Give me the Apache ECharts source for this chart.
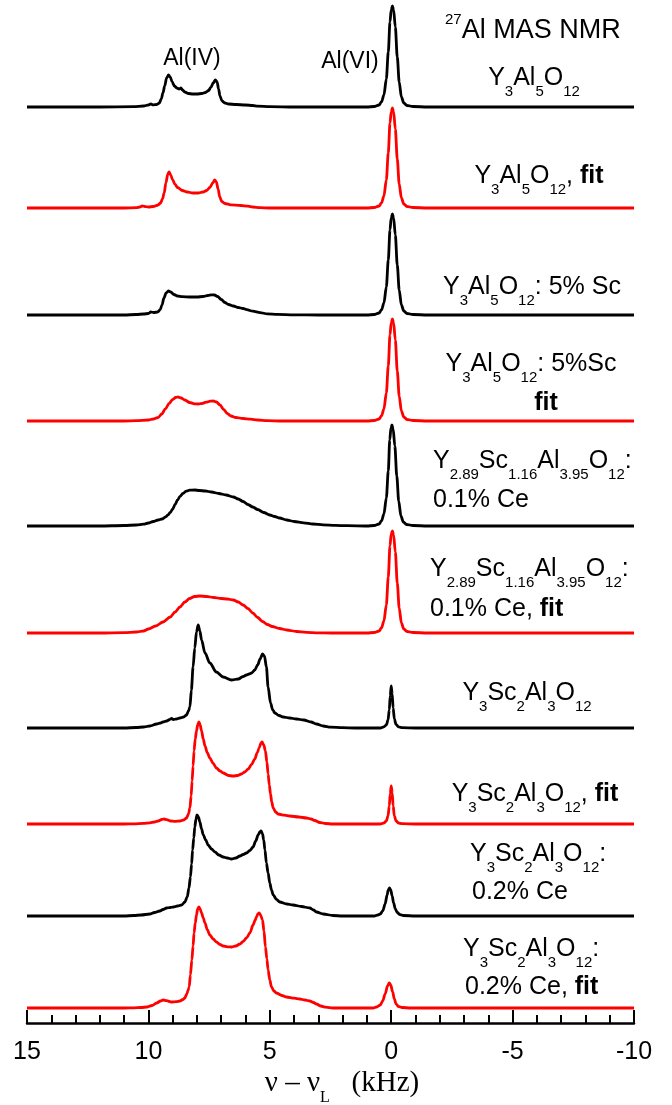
<!DOCTYPE html>
<html><head><meta charset="utf-8">
<script src="https://cdn.jsdelivr.net/npm/echarts@6/dist/echarts.min.js"></script>
<style>html,body{margin:0;padding:0;background:#fff}#c{width:672px;height:1105px}</style>
</head><body><div id="c"></div>
<script>
// x: nu - nuL (kHz); y: intensity above each trace's own baseline (arbitrary units)
const xTicks = [15, 10, 5, 0, -5, -10];
const traceOffsets = [916, 815, 708, 602, 497, 390, 295, 199, 107, 15];
const traceKinds = ['exp','fit','exp','fit','exp','fit','exp','fit','exp','fit'];

const specYAG = [[15,0],[12,0],[10.6,0.3],[10.2,1],[10.0,2],[9.9,3],[9.8,2.2],[9.65,2.5],[9.55,4],[9.47,8],[9.4,14],[9.33,21],[9.25,29],[9.17,32],[9.1,30],[9.02,25],[8.93,21],[8.83,19],[8.73,18],[8.66,19],[8.6,17],[8.5,15],[8.35,13.5],[8.17,13],[8.0,13],[7.8,13.5],[7.65,14.5],[7.52,16.5],[7.43,19.5],[7.33,24],[7.24,27],[7.17,25],[7.11,18],[7.05,11],[6.97,6],[6.85,4],[6.7,3],[6.4,2.5],[6.0,2],[5.7,1.5],[5.5,0.8],[5.0,0.4],[4.0,0],[1.0,0],[0.7,0.5],[0.5,2],[0.4,5],[0.3,12],[0.2,28],[0.12,55],[0.05,85],[0.0,97],[-0.05,101],[-0.1,97],[-0.17,80],[-0.25,50],[-0.33,25],[-0.42,10],[-0.52,4],[-0.65,1.5],[-0.9,0.5],[-1.5,0],[-10,0]];
const specYAGfit = [[15,0],[11,0],[10.5,0.3],[10.35,1],[10.25,2],[10.15,1.5],[10.0,1],[9.8,1.5],[9.6,3],[9.5,5],[9.42,9],[9.35,15],[9.28,25],[9.2,34],[9.15,36],[9.08,33],[9.0,28],[8.9,23.5],[8.8,20.5],[8.6,17.5],[8.4,16],[8.17,15],[7.95,15],[7.75,16],[7.6,17.5],[7.47,20.5],[7.35,25],[7.27,28],[7.2,26],[7.13,19],[7.06,11],[6.98,6.5],[6.85,4.5],[6.6,3.2],[6.2,2.5],[5.9,1.8],[5.7,1],[5.4,0.3],[5.0,0],[1.0,0],[0.7,0.5],[0.5,2],[0.4,5],[0.3,12],[0.2,28],[0.12,55],[0.05,85],[0.0,96],[-0.05,100],[-0.1,96],[-0.17,79],[-0.25,49],[-0.33,24],[-0.42,10],[-0.52,4],[-0.65,1.5],[-0.9,0.5],[-1.5,0],[-10,0]];
const specSc5 = [[15,0],[11,0],[10.5,0.5],[10.2,1],[10.0,1.5],[9.9,3],[9.78,2.5],[9.62,3],[9.52,5],[9.44,10],[9.36,17],[9.27,22],[9.18,24],[9.08,23],[8.95,20.5],[8.8,19],[8.6,18.3],[8.3,18],[8.0,18],[7.75,18.5],[7.55,19.5],[7.4,20.2],[7.28,20],[7.15,18.5],[7.0,15.5],[6.85,12.5],[6.7,10.5],[6.5,9],[6.3,7.5],[6.1,6.5],[5.95,5.3],[5.7,3.8],[5.4,2.3],[5.1,1.2],[4.7,0.6],[4.0,0.2],[3,0],[1.0,0],[0.7,0.5],[0.5,2],[0.4,5],[0.3,12],[0.2,28],[0.12,55],[0.05,85],[0.0,97],[-0.05,101],[-0.1,97],[-0.17,80],[-0.25,50],[-0.33,25],[-0.42,10],[-0.52,4],[-0.65,1.5],[-0.9,0.5],[-1.5,0],[-10,0]];
const specSc5fit = [[15,0],[11,0],[10.5,0.3],[10.0,1],[9.8,2],[9.6,3.5],[9.45,7],[9.3,12],[9.15,17.5],[9.0,21.5],[8.88,23.5],[8.78,24],[8.65,23],[8.5,21],[8.3,18.5],[8.1,17.2],[7.95,17],[7.8,17.5],[7.62,18.8],[7.45,19.8],[7.33,20],[7.2,19],[7.05,16],[6.9,11.5],[6.75,7.5],[6.6,5],[6.4,3.5],[6.1,2.5],[5.8,1.8],[5.5,1],[5.1,0.4],[4.5,0],[1.0,0],[0.7,0.5],[0.5,2],[0.4,5],[0.3,12],[0.2,28],[0.12,55],[0.05,86],[0.0,98],[-0.05,102],[-0.1,98],[-0.17,81],[-0.25,50],[-0.33,25],[-0.42,10],[-0.52,4],[-0.65,1.5],[-0.9,0.5],[-1.5,0],[-10,0]];
const specCe01 = [[15,0],[12,0],[11,0.5],[10.5,1],[10.2,1.8],[10.0,3],[9.8,4.5],[9.6,6],[9.44,7],[9.3,8.8],[9.2,10.8],[9.1,13.5],[9.0,17],[8.9,21.5],[8.8,26],[8.7,29.5],[8.58,32.5],[8.45,34.8],[8.3,35.8],[8.1,36],[7.9,35.5],[7.65,35],[7.4,34],[7.1,32.5],[6.8,31],[6.5,29],[6.3,27],[6.1,24.5],[5.9,21.5],[5.7,19],[5.5,16.5],[5.25,13.5],[5.0,11],[4.8,9.5],[4.6,8],[4.3,6],[4.0,4.5],[3.6,3.2],[3.23,2],[2.8,1.2],[2.3,0.6],[1.8,0.3],[1.0,0],[0.7,0.5],[0.5,2],[0.4,5],[0.3,12],[0.2,28],[0.12,55],[0.06,86],[0.01,98],[-0.03,101],[-0.08,97],[-0.15,80],[-0.23,50],[-0.31,25],[-0.4,10],[-0.5,4],[-0.63,1.5],[-0.9,0.5],[-1.5,0],[-10,0]];
const specCe01fit = [[15,0],[12,0],[11,0.4],[10.5,1],[10.2,2],[10.0,4],[9.7,7],[9.4,11],[9.1,16],[8.9,21],[8.7,26],[8.5,31],[8.3,34.5],[8.1,36.5],[7.88,37],[7.6,36.5],[7.3,35.5],[7.0,34.5],[6.75,34],[6.5,33],[6.3,31],[6.1,28],[5.9,24.5],[5.7,20],[5.5,15.5],[5.3,11.5],[5.1,8.5],[4.9,6.5],[4.6,4.5],[4.3,3],[3.9,1.5],[3.5,0.7],[3.0,0.2],[2.5,0],[1.0,0],[0.7,0.5],[0.5,2],[0.4,5],[0.3,12],[0.2,28],[0.12,56],[0.05,87],[0.0,99],[-0.05,102],[-0.1,98],[-0.17,81],[-0.25,50],[-0.33,25],[-0.42,10],[-0.52,4],[-0.65,1.5],[-0.9,0.5],[-1.5,0],[-10,0]];
const specYSAG = [[15,0],[11,0],[10.5,0.5],[10.2,1],[9.94,2],[9.66,4],[9.5,5],[9.4,6],[9.25,7],[9.12,8.5],[9.05,9.5],[8.97,8.5],[8.85,9],[8.7,10],[8.55,11],[8.43,13],[8.35,17],[8.29,21],[8.23,38],[8.16,61],[8.09,80],[8.02,96],[7.95,103],[7.88,97],[7.81,88],[7.67,75],[7.47,65],[7.2,56],[6.92,51],[6.58,48],[6.3,49],[6.1,51.5],[5.96,53],[5.85,54],[5.75,55],[5.62,58],[5.5,63],[5.4,69],[5.3,74],[5.22,72],[5.14,61],[5.07,41],[4.97,25],[4.88,18],[4.79,15],[4.62,12.5],[4.45,11],[4.18,10],[3.9,9],[3.6,8],[3.3,6],[3.08,4],[2.8,2],[2.5,0.8],[2.0,0.3],[1.5,0],[0.45,0],[0.3,1.2],[0.2,3],[0.13,8],[0.08,18],[0.04,32],[0.0,42],[-0.04,34],[-0.08,20],[-0.13,9],[-0.2,3.5],[-0.3,1.2],[-0.45,0.3],[-1,0],[-10,0]];
const specYSAGfit = [[15,0],[11,0],[10.6,0.2],[10.2,0.6],[9.94,1.2],[9.75,2],[9.6,3],[9.45,4.5],[9.36,5],[9.25,4.3],[9.1,3],[8.9,2.6],[8.7,3],[8.55,4],[8.43,6],[8.35,10],[8.29,16],[8.24,28],[8.2,43],[8.16,58],[8.12,73],[8.07,85],[8.02,93],[7.97,99],[7.92,102],[7.87,99],[7.81,93],[7.74,85],[7.67,78],[7.57,71],[7.47,66],[7.33,60.5],[7.2,56],[7.05,53],[6.92,51],[6.7,48.5],[6.51,48],[6.33,48.5],[6.17,50],[6.03,52],[5.89,55],[5.75,59.5],[5.62,65],[5.52,71],[5.44,76],[5.37,80.5],[5.32,82],[5.25,79],[5.18,73],[5.12,62],[5.07,50],[5.02,39],[4.97,30],[4.92,22],[4.86,16],[4.76,12],[4.66,10],[4.4,8.8],[4.18,8],[3.8,7],[3.49,6],[3.3,5],[3.15,3.5],[2.94,1.5],[2.7,0.5],[2.4,0],[0.45,0],[0.3,1],[0.2,3],[0.13,8],[0.08,18],[0.04,30],[0.0,38],[-0.04,31],[-0.08,18],[-0.13,8],[-0.2,3],[-0.3,1],[-0.45,0.3],[-1,0],[-10,0]];
const specCe02 = [[15,0],[11,0],[10.6,0.5],[10.3,1],[9.94,2],[9.75,3.5],[9.53,5],[9.4,6.5],[9.25,8],[9.1,8.5],[8.97,9],[8.8,10],[8.63,11],[8.5,14],[8.4,19],[8.33,28],[8.27,39],[8.22,52],[8.18,66],[8.13,78],[8.09,89],[8.04,97],[8.0,101],[7.94,99],[7.88,94],[7.81,87],[7.74,81],[7.64,76],[7.54,71],[7.4,67],[7.26,64],[7.1,61],[6.92,59],[6.75,58],[6.58,57],[6.4,58],[6.23,60],[6.1,61.5],[5.96,63],[5.82,65.5],[5.69,69],[5.58,75],[5.48,81],[5.41,84],[5.36,85],[5.3,82],[5.25,76],[5.2,66],[5.14,53],[5.07,43],[5.0,33],[4.93,26],[4.86,21],[4.72,16.5],[4.59,14],[4.3,12],[4.04,11],[3.7,9.5],[3.35,8],[3.2,6],[3.08,4],[2.8,2],[2.4,0.5],[2.0,0],[0.7,0],[0.55,1],[0.45,2],[0.35,5],[0.25,12],[0.17,21],[0.12,26],[0.07,28],[0.02,26],[-0.04,20],[-0.1,13],[-0.17,7],[-0.25,3.5],[-0.35,1.5],[-0.5,0.5],[-1,0],[-10,0]];
const specCe02fit = [[15,0],[11,0],[10.6,0.2],[10.3,0.5],[10.07,1],[9.85,2.5],[9.66,5],[9.5,7],[9.39,8],[9.25,7.3],[9.05,6],[8.85,6.3],[8.7,7],[8.58,8.5],[8.5,10],[8.42,14],[8.36,18],[8.32,21],[8.27,33],[8.21,48],[8.16,62],[8.12,75],[8.07,85],[8.02,93],[7.97,99],[7.92,101],[7.87,99],[7.81,95],[7.74,90],[7.67,85],[7.57,78],[7.47,73],[7.33,69],[7.2,66],[7.05,63.5],[6.92,62],[6.75,61.2],[6.58,61],[6.4,62],[6.23,64],[6.1,66.5],[5.96,70],[5.82,75],[5.69,83],[5.6,88],[5.55,91],[5.49,94],[5.44,95],[5.38,93],[5.3,88],[5.24,77],[5.18,61],[5.12,49],[5.07,38],[5.0,28],[4.93,21],[4.83,17],[4.73,15],[4.5,12.5],[4.31,11],[4.0,9.8],[3.77,9],[3.55,8],[3.35,7],[3.2,5.5],[3.08,4],[2.9,2],[2.7,0.8],[2.4,0],[0.75,0],[0.6,1],[0.45,3],[0.35,7],[0.25,14],[0.15,22],[0.08,25],[0.02,23],[-0.06,16],[-0.13,9],[-0.2,4],[-0.3,1.5],[-0.45,0.5],[-0.8,0],[-10,0]];

const spectra = [specYAG, specYAGfit, specSc5, specSc5fit, specCe01, specCe01fit, specYSAG, specYSAGfit, specCe02, specCe02fit];

const traceLabels = [
  ['Y_{3}Al_{5}O_{12}'],
  ['Y_{3}Al_{5}O_{12}, **fit**'],
  ['Y_{3}Al_{5}O_{12}: 5% Sc'],
  ['Y_{3}Al_{5}O_{12}: 5%Sc', '**fit**'],
  ['Y_{2.89}Sc_{1.16}Al_{3.95}O_{12}:', '0.1% Ce'],
  ['Y_{2.89}Sc_{1.16}Al_{3.95}O_{12}:', '0.1% Ce, **fit**'],
  ['Y_{3}Sc_{2}Al_{3}O_{12}'],
  ['Y_{3}Sc_{2}Al_{3}O_{12}, **fit**'],
  ['Y_{3}Sc_{2}Al_{3}O_{12}:', '0.2% Ce'],
  ['Y_{3}Sc_{2}Al_{3}O_{12}:', '0.2% Ce, **fit**']
];
const siteLabels = ['Al(IV)', 'Al(VI)'];
const titleText = '^{27}Al MAS NMR';
const axisTitle = 'ν – ν_{L}   (kHz)';

// layout (pixels) for the text
const labelLayout = [
  [[534, 78, 'center']],
  [[539, 176, 'center']],
  [[532, 287, 'center']],
  [[531, 364, 'center'], [546, 403, 'center']],
  [[433, 461, 'left'], [433, 500, 'left']],
  [[430, 569, 'left'], [430, 609, 'left']],
  [[527, 693, 'center']],
  [[535, 794, 'center']],
  [[470, 854, 'left'], [472, 892, 'left']],
  [[463, 949, 'left'], [465, 987, 'left']]
];
const siteLayout = [[192, 59], [350, 62]];

const SANS = '"Liberation Sans", Arial, sans-serif';
const SERIF = '"Liberation Serif", "Times New Roman", serif';

function toRich(s) {
  return s.split(/(_\{[^}]*\}|\^\{[^}]*\}|\*\*[^*]+\*\*)/).filter(p => p.length).map(p => {
    if (p.startsWith('_{')) return '{s|' + p.slice(2, -1) + '}';
    if (p.startsWith('^{')) return '{u|' + p.slice(2, -1) + '}';
    if (p.startsWith('**')) return '{b|' + p.slice(2, -2) + '}';
    return '{n|' + p + '}';
  }).join('');
}

const richLabel = {
  n: {fontSize: 25, fontFamily: SANS, lineHeight: 42, fill: '#000'},
  b: {fontSize: 25, fontFamily: SANS, fontWeight: 'bold', lineHeight: 42, fill: '#000'},
  s: {fontSize: 15, fontFamily: SANS, verticalAlign: 'bottom', fill: '#000'}
};

const graphics = [];
traceLabels.forEach((lines, i) => {
  lines.forEach((ln, j) => {
    const [x, y, al] = labelLayout[i][j];
    graphics.push({type: 'text', x: x, y: y, z: 10,
      style: {text: toRich(ln), rich: richLabel, align: al, textAlign: al, verticalAlign: 'middle', textVerticalAlign: 'middle', fill: '#000'}});
  });
});
siteLabels.forEach((t, i) => {
  graphics.push({type: 'text', x: siteLayout[i][0], y: siteLayout[i][1], z: 10,
    style: {text: t, fontSize: 23, fontFamily: SANS, fill: '#000', align: 'center', textAlign: 'center', verticalAlign: 'middle', textVerticalAlign: 'middle'}});
});
graphics.push({type: 'text', x: 445, y: 31, z: 10,
  style: {text: toRich(titleText), align: 'left', textAlign: 'left', verticalAlign: 'middle', textVerticalAlign: 'middle',
    rich: {n: {fontSize: 27, fontFamily: SANS, lineHeight: 37, fill: '#000'}, u: {fontSize: 15, fontFamily: SANS, verticalAlign: 'top', fill: '#000'}}}});
graphics.push({type: 'text', x: 342, y: 1083, z: 10,
  style: {text: toRich(axisTitle), align: 'center', textAlign: 'center', verticalAlign: 'middle', textVerticalAlign: 'middle',
    rich: {n: {fontSize: 29, fontFamily: SERIF, lineHeight: 46, fill: '#000'}, s: {fontSize: 16, fontFamily: SERIF, verticalAlign: 'bottom', fill: '#000'}}}});

const series = spectra.map((sp, i) => ({
  type: 'line',
  data: sp.map(p => [p[0], p[1] + traceOffsets[i]]),
  showSymbol: false,
  smooth: 0.3,
  smoothMonotone: 'x',
  lineStyle: {width: 2.8, color: traceKinds[i] === 'fit' ? '#ff0000' : '#000000'},
  itemStyle: {color: traceKinds[i] === 'fit' ? '#ff0000' : '#000000'},
  z: 3
}));

const chart = echarts.init(document.getElementById('c'), null, {renderer: 'canvas'});
chart.setOption({
  animation: false,
  backgroundColor: '#ffffff',
  grid: {left: 27, right: 38, top: 0, bottom: 82},
  xAxis: {
    type: 'value', min: xTicks[xTicks.length - 1], max: xTicks[0], interval: 5, inverse: true,
    axisLine: {show: true, lineStyle: {color: '#000', width: 2.5}},
    axisTick: {show: true, inside: true, length: 13, lineStyle: {color: '#000', width: 2}},
    minorTick: {show: true, splitNumber: 5, length: 8, lineStyle: {color: '#000', width: 2}},
    splitLine: {show: false}, minorSplitLine: {show: false},
    axisLabel: {fontSize: 25, color: '#000', fontFamily: SANS, margin: 17}
  },
  yAxis: {type: 'value', min: 0, max: 1023, show: false},
  series: series,
  graphic: graphics
});
</script></body></html>
